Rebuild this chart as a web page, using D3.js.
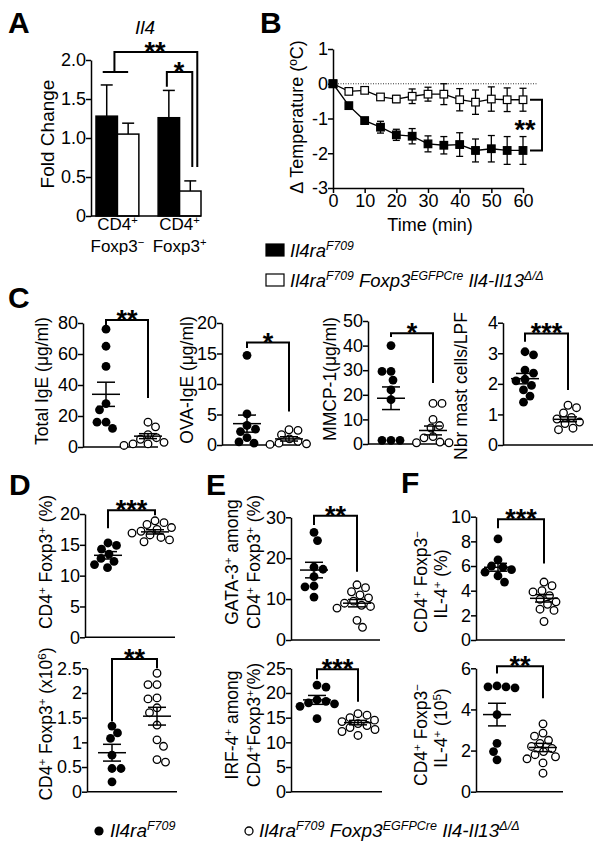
<!DOCTYPE html>
<html>
<head>
<meta charset="utf-8">
<script src="https://cdn.jsdelivr.net/npm/d3@7"></script>
<style>
  body { margin: 0; background: #fff; }
  svg { font-family: "Liberation Sans", Arial, sans-serif; }
</style>
</head>
<body>
<svg id="fig" width="600" height="849"></svg>
<script>
// ---- data ----
// A: Il4 fold change
const aGroups = ["neg", "pos"];
const aGenotypes = ["F709", "KO"];
const aMeans = [[1.28, 1.05], [1.26, 0.32]];
const aErr = [[0.40, 0.14], [0.35, 0.13]];

// B: temperature drop
const bTime = [0, 5, 10, 15, 20, 25, 30, 35, 40, 45, 50, 55, 60];
const bF709 = [0, -0.63, -1.06, -1.25, -1.47, -1.51, -1.73, -1.77, -1.75, -1.92, -1.87, -1.92, -1.92];
const bF709Err = [0, 0.04, 0.05, 0.17, 0.16, 0.22, 0.23, 0.25, 0.34, 0.33, 0.38, 0.40, 0.40];
const bKO = [0, -0.22, -0.19, -0.38, -0.44, -0.36, -0.30, -0.30, -0.46, -0.53, -0.44, -0.46, -0.46];
const bKOErr = [0, 0.03, 0.04, 0.05, 0.10, 0.21, 0.20, 0.30, 0.32, 0.35, 0.35, 0.34, 0.33];

// C
const totalIgeF709 = [76, 65, 52, 28, 24, 16, 16, 12];
const totalIgeKO = [16, 13, 8, 6, 5, 3, 2, 1, 2];
const totalIgeStats = [[34, 7.8], [7, 1.6]];
const ovaIgeF709 = [14.7, 5.1, 3.2, 2.6, 2.2, 1.2, 0.5, 0.3];
const ovaIgeKO = [2.5, 2.4, 1.7, 1.0, 0.6, 0.3, 0.2, 0.1];
const ovaIgeStats = [[3.5, 1.4], [1.0, 0.35]];
const mmcpF709 = [40, 29.5, 29.5, 26, 22, 18, 1.5, 1.5, 1.5];
const mmcpKO = [16.5, 16.5, 10, 7.5, 6.5, 3, 2.5, 0.8, 0.5, 0.5];
const mmcpStats = [[18.6, 4.6], [5.5, 1.8]];
const mastF709 = [3.05, 2.95, 2.45, 2.35, 2.15, 2.1, 1.95, 1.8, 1.6, 1.4];
const mastKO = [1.3, 1.22, 1.05, 0.9, 0.85, 0.75, 0.7, 0.55, 0.5];
const mastStats = [[2.17, 0.17], [0.84, 0.08]];

// D
const tregPctF709 = [15.3, 14.9, 14.3, 13.5, 12.8, 12.3, 11.8, 11.3];
const tregPctKO = [18.9, 18.6, 18.3, 17.8, 17.5, 17.2, 16.9, 16.6, 16.2, 15.8, 15.5];
const tregPctStats = [[13.3, 0.6], [17.1, 0.35]];
const tregNumF709 = [1.33, 1.19, 1.08, 0.74, 0.47, 0.47, 0.2];
const tregNumKO = [2.4, 2.17, 2.17, 1.9, 1.88, 1.7, 1.6, 1.35, 1.05, 0.92, 0.65, 0.6];
const tregNumStats = [[0.79, 0.17], [1.53, 0.18]];

// E
const gataF709 = [26.3, 24.3, 17.8, 17.3, 15.5, 13.2, 13.0, 10.5];
const gataKO = [13.5, 12.8, 11.8, 11.0, 10.3, 9.5, 9.0, 8.5, 8.2, 7.8, 4.8, 3.1];
const gataStats = [[17.1, 1.9], [9.0, 0.9]];
const irfF709 = [21.6, 21.2, 18.6, 18.3, 18.0, 17.8, 17.3, 14.8];
const irfKO = [15.8, 15.5, 15.0, 14.5, 14.2, 13.8, 13.4, 13.0, 12.6, 12.2, 11.4];
const irfStats = [[18.6, 0.9], [14.0, 0.45]];

// F
const il4PctF709 = [8.2, 6.5, 6.0, 5.9, 5.7, 5.5, 5.2, 4.7];
const il4PctKO = [4.7, 4.4, 4.0, 3.9, 3.6, 3.3, 3.1, 2.9, 2.5, 2.4, 1.5];
const il4PctStats = [[5.9, 0.32], [3.38, 0.3]];
const il4NumF709 = [5.15, 5.1, 5.1, 5.05, 3.75, 2.35, 1.95, 1.55];
const il4NumKO = [3.3, 2.85, 2.7, 2.5, 2.35, 2.2, 2.1, 1.95, 1.8, 1.7, 1.6, 1.4, 0.9];
const il4NumStats = [[3.75, 0.55], [2.15, 0.2]];

// ---- drawing ----
const svg = d3.select("#fig");
const FS = 17.5;   // axis titles
const TS = 18;     // tick labels

function sup(t) { return { t: t, sup: true }; }
function rich(textSel, segs, size) {
  segs.forEach(s => {
    const seg = typeof s === "string" ? { t: s } : s;
    const ts = textSel.append("tspan").text(seg.t);
    if (seg.sup) ts.attr("baseline-shift", "super").attr("font-size", size * 0.66);
    if (seg.i) ts.attr("font-style", "italic");
  });
}
function ylabel(x, y, segs, size) {
  const t = svg.append("text")
    .attr("transform", `translate(${x},${y}) rotate(-90)`)
    .attr("text-anchor", "middle").attr("dy", "0.35em")
    .attr("font-size", size || FS);
  rich(t, segs, size || FS);
}
function panelLetter(x, y, s) {
  svg.append("text").attr("x", x).attr("y", y).attr("font-size", 30)
    .attr("font-weight", "bold").text(s);
}
function stars(x, y, s) {
  svg.append("text").attr("x", x).attr("y", y).attr("text-anchor", "middle")
    .attr("font-size", 27).attr("font-weight", "bold").text(s);
}
function styleAxis(g, size) {
  g.attr("font-size", size || TS).attr("font-family", "Liberation Sans, Arial, sans-serif");
  g.selectAll("path, line").attr("stroke", "#000").attr("stroke-width", 1.5);
  g.selectAll("text").attr("fill", "#000");
}

// simple beeswarm offsets
function swarm(vals, y, r) {
  const order = vals.map((v, i) => i).sort((a, b) => vals[b] - vals[a]);
  const placed = [];
  const out = new Array(vals.length);
  order.forEach((i, k) => {
    const py = y(vals[i]);
    let chosen = 0;
    for (let d = 0; d < 40; d += 0.5) {
      const cands = d === 0 ? [0] : (k % 2 ? [d, -d] : [-d, d]);
      const ok = cands.find(c => placed.every(p => Math.hypot(p[0] - c, p[1] - py) >= 2 * r * 1.0));
      if (ok !== undefined) { chosen = ok; break; }
    }
    placed.push([chosen, py]);
    out[i] = chosen;
  });
  return out;
}

function scatterPanel(o) {
  const y = d3.scaleLinear().domain([0, o.max]).range([o.y0, o.yTop]);
  const x = d3.scalePoint().domain(aGenotypes).range(o.gx);
  const ax = svg.append("g").attr("transform", `translate(${o.axX},0)`)
    .call(d3.axisLeft(y).tickValues(o.ticks).tickSize(5).tickSizeOuter(0).tickFormat(o.fmt || (d => d)));
  styleAxis(ax, TS);
  ax.selectAll("text").attr("x", -5);
  svg.append("line").attr("x1", o.axX).attr("x2", o.axEnd)
    .attr("y1", y(0)).attr("y2", y(0)).attr("stroke", "#000").attr("stroke-width", 1.5);

  const r = 4.4;
  [[o.f, "F709"], [o.k, "KO"]].forEach(([vals, g]) => {
    const offs = swarm(vals, y, r);
    svg.append("g").selectAll("circle").data(vals).join("circle")
      .attr("cx", (d, i) => x(g) + offs[i]).attr("cy", d => y(d)).attr("r", g === "F709" ? r : r - 0.6)
      .attr("fill", g === "F709" ? "#000" : "#fff")
      .attr("stroke", "#000").attr("stroke-width", g === "F709" ? 0 : 1.3);
  });
  // mean +/- sem
  aGenotypes.forEach((g, gi) => {
    const [m, s] = o.stats[gi];
    const cx = x(g);
    const gg = svg.append("g").attr("stroke", "#000").attr("stroke-width", 1.5);
    gg.append("line").attr("x1", cx - 14).attr("x2", cx + 14).attr("y1", y(m)).attr("y2", y(m));
    gg.append("line").attr("x1", cx).attr("x2", cx).attr("y1", y(m - s)).attr("y2", y(m + s));
    [m - s, m + s].forEach(v => gg.append("line").attr("x1", cx - 9).attr("x2", cx + 9).attr("y1", y(v)).attr("y2", y(v)));
  });
  // bracket
  const [bt, bl, br] = o.bracket;
  svg.append("path").attr("fill", "none").attr("stroke", "#000").attr("stroke-width", 2)
    .attr("d", `M${x("F709")},${y(bl)}V${y(bt)}H${x("KO")}V${y(br)}`);
  stars((x("F709") + x("KO")) / 2, y(bt) + 9, o.stars);
  o.labels.forEach(l => ylabel(l[0], l[1], l[2]));
}

// ---------- Panel A ----------
panelLetter(8, 33, "A");
svg.append("text").attr("x", 145).attr("y", 34).attr("text-anchor", "middle")
  .attr("font-size", 19).attr("font-style", "italic").text("Il4");
const aY = d3.scaleLinear().domain([0, 2]).range([216, 60]);
const aX0 = d3.scaleBand().domain(aGroups).range([96, 201]).paddingInner(0.31);
const aX1 = d3.scaleBand().domain(aGenotypes).range([0, aX0.bandwidth()]);
aGroups.forEach((g, gi) => {
  aGenotypes.forEach((k, ki) => {
    const x0 = aX0(g) + aX1(k), w = aX1.bandwidth(), cx = x0 + w / 2;
    const m = aMeans[gi][ki], e = aErr[gi][ki];
    svg.append("line").attr("x1", cx).attr("x2", cx).attr("y1", aY(m)).attr("y2", aY(m + e))
      .attr("stroke", "#000").attr("stroke-width", 1.5);
    svg.append("line").attr("x1", cx - 6).attr("x2", cx + 6).attr("y1", aY(m + e)).attr("y2", aY(m + e))
      .attr("stroke", "#000").attr("stroke-width", 1.5);
    svg.append("rect").attr("x", x0).attr("width", w).attr("y", aY(m)).attr("height", aY(0) - aY(m))
      .attr("fill", ki === 0 ? "#000" : "#fff").attr("stroke", "#000").attr("stroke-width", 1.5);
  });
});
const aAx = svg.append("g").attr("transform", "translate(91,0)")
  .call(d3.axisLeft(aY).tickValues([0, 0.5, 1, 1.5, 2]).tickSize(5).tickSizeOuter(0)
    .tickFormat(d => d === 0 ? "0" : d3.format(".1f")(d)));
styleAxis(aAx, TS);
aAx.selectAll("text").attr("x", -5);
svg.append("line").attr("x1", 91).attr("x2", 201).attr("y1", aY(0)).attr("y2", aY(0))
  .attr("stroke", "#000").attr("stroke-width", 1.5);
// x labels
aGroups.forEach((g, gi) => {
  const cx = aX0(g) + aX0.bandwidth() / 2;
  const t1 = svg.append("text").attr("x", cx).attr("y", 230).attr("text-anchor", "middle").attr("font-size", 17);
  rich(t1, ["CD4", sup("+")], 17);
  const t2 = svg.append("text").attr("x", cx).attr("y", 252).attr("text-anchor", "middle").attr("font-size", 17);
  rich(t2, ["Foxp3", sup(gi === 0 ? "−" : "+")], 17);
});
ylabel(47, 134, ["Fold Change"], 19);
{
  const c = (g, k) => aX0(g) + aX1(k) + aX1.bandwidth() / 2;
  const yA = aY(1.846), yB = aY(2.103), yEnd = aY(0.628);
  const p = d3.path();
  p.moveTo(c("neg", "F709") - 4, yA); p.lineTo(c("neg", "KO"), yA);
  p.moveTo(aX0("neg") + aX0.bandwidth() / 2 - 3, yA); p.lineTo(aX0("neg") + aX0.bandwidth() / 2 - 3, yB);
  p.lineTo(c("pos", "KO") + 7, yB); p.lineTo(c("pos", "KO") + 7, yEnd);
  p.moveTo(c("pos", "F709") - 2, aY(1.658)); p.lineTo(c("pos", "F709") - 2, yA);
  p.lineTo(c("pos", "KO") + 2, yA); p.lineTo(c("pos", "KO") + 2, yEnd);
  svg.append("path").attr("d", p.toString()).attr("fill", "none").attr("stroke", "#000").attr("stroke-width", 2);
  stars(155, yB + 9, "**");
  stars(179, yA + 9, "*");
}

// ---------- Panel B ----------
panelLetter(260, 33, "B");
const bX = d3.scaleLinear().domain([0, 60]).range([333, 523]);
const bY = d3.scaleLinear().domain([-3, 1]).range([188, 49]);
svg.append("line").attr("x1", bX(0)).attr("x2", 538).attr("y1", bY(0)).attr("y2", bY(0))
  .attr("stroke", "#000").attr("stroke-width", 0.8).attr("stroke-dasharray", "1,1.5");
const bAxY = svg.append("g").attr("transform", `translate(${bX(0)},0)`)
  .call(d3.axisLeft(bY).tickValues([-3, -2, -1, 0, 1]).tickSize(5).tickSizeOuter(0).tickFormat(d => d < 0 ? "-" + (-d) : d));
styleAxis(bAxY, TS);
bAxY.selectAll("text").attr("x", -5);
const bAxX = svg.append("g").attr("transform", `translate(0,${bY(-3)})`)
  .call(d3.axisBottom(bX).tickValues([0, 10, 20, 30, 40, 50, 60]).tickSize(5).tickSizeOuter(0));
styleAxis(bAxX, TS);
bAxX.selectAll("text").attr("y", 6);
svg.append("text").attr("x", 430).attr("y", 231).attr("text-anchor", "middle").attr("font-size", 18).text("Time (min)");
ylabel(297, 117, ["Δ Temperature (ºC)"], 18);
[[bKO, bKOErr, "#fff"], [bF709, bF709Err, "#000"]].forEach(([vals, err, fill]) => {
  const pts = bTime.map((t, i) => ({ t, v: vals[i], e: err[i] }));
  const g = svg.append("g");
  g.append("path").datum(pts).attr("fill", "none").attr("stroke", "#000").attr("stroke-width", 1.3)
    .attr("d", d3.line().x(d => bX(d.t)).y(d => bY(d.v)));
  const eb = g.selectAll("g.eb").data(pts.filter(d => d.e > 0.06)).join("g").attr("stroke", "#000").attr("stroke-width", 1.3);
  eb.append("line").attr("x1", d => bX(d.t)).attr("x2", d => bX(d.t)).attr("y1", d => bY(d.v - d.e)).attr("y2", d => bY(d.v + d.e));
  eb.append("line").attr("x1", d => bX(d.t) - 3.5).attr("x2", d => bX(d.t) + 3.5).attr("y1", d => bY(d.v - d.e)).attr("y2", d => bY(d.v - d.e));
  eb.append("line").attr("x1", d => bX(d.t) - 3.5).attr("x2", d => bX(d.t) + 3.5).attr("y1", d => bY(d.v + d.e)).attr("y2", d => bY(d.v + d.e));
  g.selectAll("rect").data(pts).join("rect")
    .attr("x", d => bX(d.t) - 3.8).attr("y", d => bY(d.v) - 3.8).attr("width", 7.6).attr("height", 7.6)
    .attr("fill", fill).attr("stroke", "#000").attr("stroke-width", 1.2);
});
svg.append("path").attr("fill", "none").attr("stroke", "#000").attr("stroke-width", 2)
  .attr("d", `M530,${bY(bKO[12])}H542V${bY(bF709[12])}H530`);
stars(525, 139, "**");

// legend for A/B
svg.append("rect").attr("x", 266).attr("y", 244).attr("width", 18).attr("height", 12).attr("fill", "#000").attr("stroke", "#000").attr("stroke-width", 1.2);
svg.append("rect").attr("x", 266).attr("y", 274).attr("width", 18).attr("height", 12).attr("fill", "#fff").attr("stroke", "#000").attr("stroke-width", 1.2);
{
  const LS = 18.5;
  const t1 = svg.append("text").attr("x", 290).attr("y", 257).attr("font-size", LS).attr("font-style", "italic");
  rich(t1, ["Il4ra", sup("F709")], LS);
  const t2 = svg.append("text").attr("x", 290).attr("y", 287).attr("font-size", LS).attr("font-style", "italic");
  rich(t2, ["Il4ra", sup("F709"), " Foxp3", sup("EGFPCre"), " Il4-Il13", sup("Δ/Δ")], LS);
}

// ---------- Panel C ----------
panelLetter(8, 308, "C");
scatterPanel({ axX: 83, axEnd: 158, y0: 447, yTop: 323, max: 80, ticks: [0, 20, 40, 60, 80], gx: [106, 148],
  f: totalIgeF709, k: totalIgeKO, stats: totalIgeStats, bracket: [81.9, 77.4, 31.6], stars: "**",
  labels: [[42, 381, ["Total IgE (μg/ml)"]]] });
scatterPanel({ axX: 222, axEnd: 300, y0: 445, yTop: 323, max: 20, ticks: [0, 5, 10, 15, 20], gx: [247, 289],
  f: ovaIgeF709, k: ovaIgeKO, stats: ovaIgeStats, bracket: [16.8, 15.9, 5.5], stars: "*",
  labels: [[187, 380, ["OVA-IgE (μg/ml)"]]] });
scatterPanel({ axX: 368, axEnd: 447, y0: 444, yTop: 321, max: 50, ticks: [0, 10, 20, 30, 40, 50], gx: [391, 433],
  f: mmcpF709, k: mmcpKO, stats: mmcpStats, bracket: [45, 43.5, 24.8], stars: "*",
  labels: [[330, 379, ["MMCP-1(μg/ml)"]]] });
scatterPanel({ axX: 503, axEnd: 593, y0: 445, yTop: 322.7, max: 4, ticks: [0, 1, 2, 3, 4], gx: [525, 568],
  f: mastF709, k: mastKO, stats: mastStats, bracket: [3.65, 3.38, 1.8], stars: "***",
  labels: [[461, 386, ["Nbr mast cells/LPF"]]] });

// ---------- Panel D ----------
panelLetter(9, 495, "D");
scatterPanel({ axX: 85, axEnd: 175, y0: 637.3, yTop: 514, max: 20, ticks: [0, 5, 10, 15, 20], gx: [108, 155],
  f: tregPctF709, k: tregPctKO, stats: tregPctStats, bracket: [20.6, 17.7, 19.8], stars: "***",
  labels: [[46, 562, ["CD4", sup("+"), " Foxp3", sup("+"), " (%)"]]] });
scatterPanel({ axX: 87, axEnd: 177, y0: 791.7, yTop: 668.3, max: 2.5, ticks: [0, 0.5, 1, 1.5, 2, 2.5], gx: [112, 157],
  f: tregNumF709, k: tregNumKO, stats: tregNumStats, bracket: [2.69, 1.42, 2.5], stars: "**",
  labels: [[46, 724, ["CD4", sup("+"), " Foxp3", sup("+"), " (x10", sup("6"), ")"]]] });

// ---------- Panel E ----------
panelLetter(206, 495, "E");
scatterPanel({ axX: 291, axEnd: 380, y0: 640, yTop: 517.3, max: 30, ticks: [0, 10, 20, 30], gx: [314, 357],
  f: gataF709, k: gataKO, stats: gataStats, bracket: [30.4, 28.1, 16.7], stars: "**",
  labels: [[232, 562, ["GATA-3", sup("+"), " among"]], [254, 562, ["CD4", sup("+"), " Foxp3", sup("+"), " (%)"]]] });
scatterPanel({ axX: 291, axEnd: 382, y0: 791.7, yTop: 668.3, max: 25, ticks: [0, 5, 10, 15, 20, 25], gx: [317, 358],
  f: irfF709, k: irfKO, stats: irfStats, bracket: [24.8, 22.8, 18.2], stars: "***",
  labels: [[232, 725, ["IRF-4", sup("+"), " among"]], [254, 725, ["CD4", sup("+"), "Foxp3", sup("+"), "(%)"]]] });

// ---------- Panel F ----------
panelLetter(401, 493, "F");
scatterPanel({ axX: 476, axEnd: 565, y0: 640, yTop: 516.7, max: 10, ticks: [0, 2, 4, 6, 8, 10], gx: [498, 544],
  f: il4PctF709, k: il4PctKO, stats: il4PctStats, bracket: [9.8, 9.06, 6.2], stars: "***",
  labels: [[421, 582, ["CD4", sup("+"), " Foxp3", sup("−")]], [441, 584, ["IL-4", sup("+"), " (%)"]]] });
scatterPanel({ axX: 476, axEnd: 563, y0: 791.7, yTop: 668.3, max: 6, ticks: [0, 2, 4, 6], gx: [497, 543],
  f: il4NumF709, k: il4NumKO, stats: il4NumStats, bracket: [6.1, 5.75, 4.54], stars: "**",
  labels: [[421, 735, ["CD4", sup("+"), " Foxp3", sup("−")]], [441, 728, ["IL-4", sup("+"), " (10", sup("5"), ")"]]] });

// bottom legend
{
  const LS = 19;
  svg.append("circle").attr("cx", 99).attr("cy", 831).attr("r", 4.6).attr("fill", "#000");
  svg.append("circle").attr("cx", 249).attr("cy", 831).attr("r", 4).attr("fill", "#fff").attr("stroke", "#000").attr("stroke-width", 1.3);
  const t1 = svg.append("text").attr("x", 110).attr("y", 837).attr("font-size", LS).attr("font-style", "italic");
  rich(t1, ["Il4ra", sup("F709")], LS);
  const t2 = svg.append("text").attr("x", 259).attr("y", 837).attr("font-size", LS).attr("font-style", "italic");
  rich(t2, ["Il4ra", sup("F709"), " Foxp3", sup("EGFPCre"), " Il4-Il13", sup("Δ/Δ")], LS);
}
</script>
</body>
</html>
